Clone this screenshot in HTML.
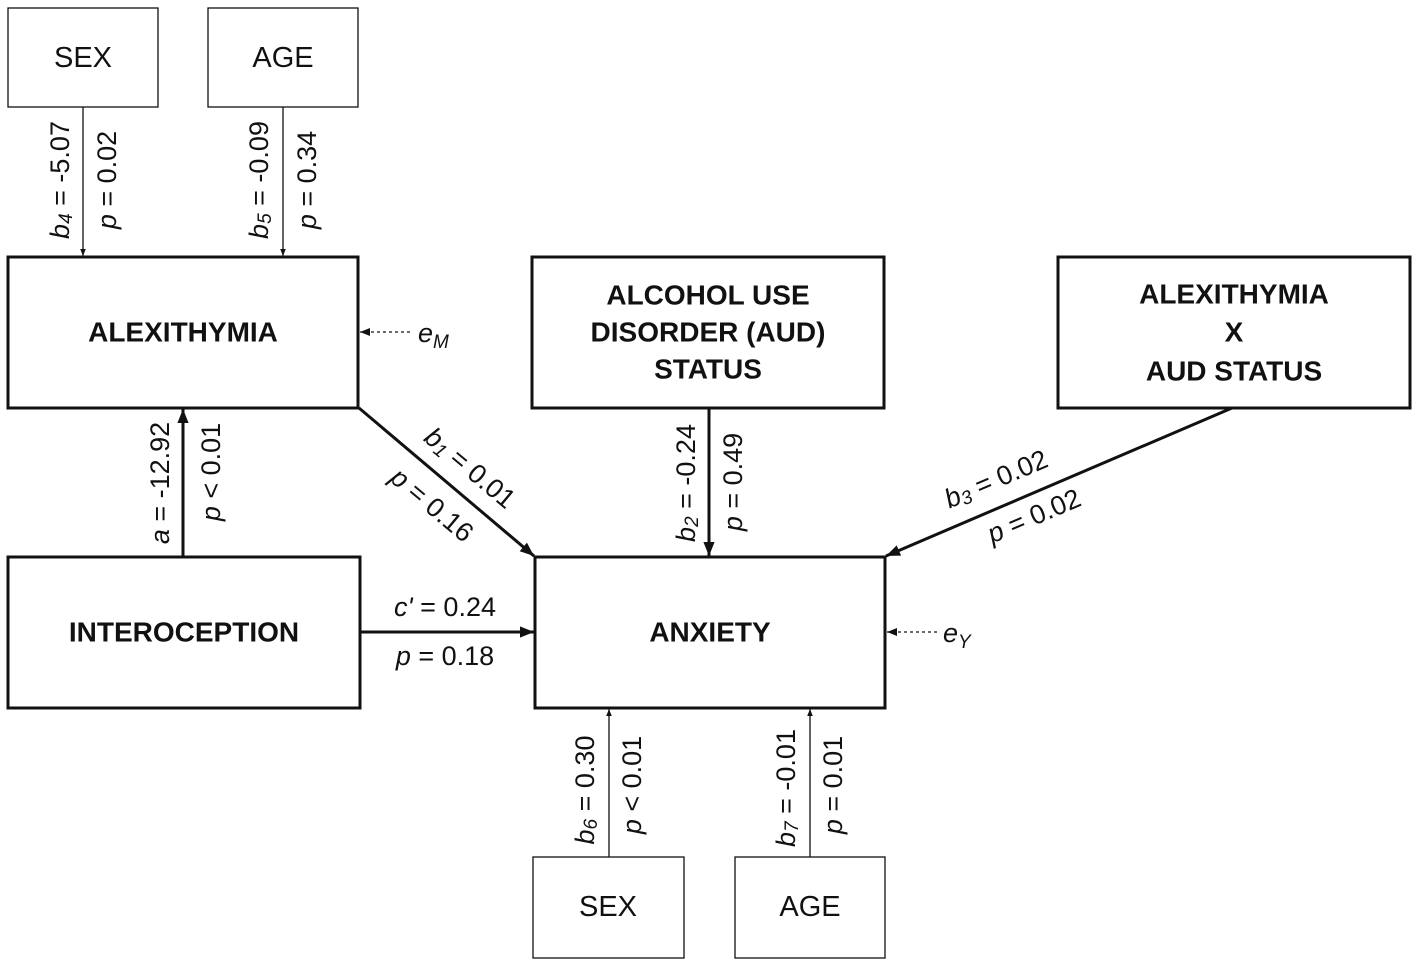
<!DOCTYPE html>
<html><head><meta charset="utf-8"><style>
html,body{margin:0;padding:0;background:#fff;}
svg{display:block;font-family:"Liberation Sans",Arial,sans-serif;}
.t{font-size:27px;fill:#111;}
.b{font-size:28px;font-weight:bold;fill:#111;}
.n{font-size:29px;fill:#111;}
</style></head><body>
<svg width="1418" height="965" viewBox="0 0 1418 965" xmlns="http://www.w3.org/2000/svg">
<defs>
<marker id="ah" viewBox="0 0 10 10" refX="10" refY="5" markerWidth="7" markerHeight="7" markerUnits="userSpaceOnUse" orient="auto"><path d="M0,1 L10,5 L0,9 z" fill="#111"/></marker>
<marker id="ahb" viewBox="0 0 10 10" refX="10" refY="5" markerWidth="16" markerHeight="14" markerUnits="userSpaceOnUse" orient="auto"><path d="M0,1 L10,5 L0,9 z" fill="#111"/></marker>
<marker id="ahs" viewBox="0 0 10 10" refX="10" refY="5" markerWidth="10" markerHeight="10" markerUnits="userSpaceOnUse" orient="auto"><path d="M0,1 L10,5 L0,9 z" fill="#111"/></marker>
</defs>
<g fill="none" stroke="#111">
<rect x="8" y="8" width="150" height="99" stroke-width="1.3"/>
<rect x="208" y="8" width="150" height="99" stroke-width="1.3"/>
<rect x="533" y="857" width="151" height="101" stroke-width="1.3"/>
<rect x="735" y="857" width="150" height="101" stroke-width="1.3"/>
<rect x="8" y="257" width="350" height="151" stroke-width="3"/>
<rect x="532" y="257" width="352" height="151" stroke-width="3"/>
<rect x="1058" y="257" width="352" height="151" stroke-width="3"/>
<rect x="8" y="557" width="352" height="151" stroke-width="3"/>
<rect x="535" y="557" width="350" height="151" stroke-width="3"/>
<line x1="83" y1="107" x2="83" y2="256" stroke-width="1.3" marker-end="url(#ah)"/>
<line x1="283" y1="107" x2="283" y2="256" stroke-width="1.3" marker-end="url(#ah)"/>
<line x1="609" y1="857" x2="609" y2="709" stroke-width="1.3" marker-end="url(#ah)"/>
<line x1="810" y1="857" x2="810" y2="709" stroke-width="1.3" marker-end="url(#ah)"/>
<line x1="183" y1="557" x2="183" y2="409" stroke-width="3" marker-end="url(#ahb)"/>
<line x1="359" y1="408" x2="534" y2="556" stroke-width="3" marker-end="url(#ahb)"/>
<line x1="709" y1="408" x2="709" y2="556" stroke-width="3" marker-end="url(#ahb)"/>
<line x1="1232" y1="408" x2="886" y2="556" stroke-width="3" marker-end="url(#ahb)"/>
<line x1="360" y1="632" x2="534" y2="632" stroke-width="3" marker-end="url(#ahb)"/>
<line x1="410" y1="332" x2="360" y2="332" stroke-width="1.2" stroke-dasharray="3,3" marker-end="url(#ahs)"/>
<line x1="937" y1="632" x2="887" y2="632" stroke-width="1.2" stroke-dasharray="3,3" marker-end="url(#ahs)"/>
</g>
<g text-anchor="middle" dominant-baseline="central">
<text class="n" x="83" y="58">SEX</text>
<text class="n" x="283" y="58">AGE</text>
<text class="n" x="608" y="907">SEX</text>
<text class="n" x="810" y="907">AGE</text>
<text class="b" x="183" y="332">ALEXITHYMIA</text>
<text class="b" x="708" y="295">ALCOHOL USE</text>
<text class="b" x="708" y="332">DISORDER (AUD)</text>
<text class="b" x="708" y="369">STATUS</text>
<text class="b" x="1234" y="294">ALEXITHYMIA</text>
<text class="b" x="1234" y="332">X</text>
<text class="b" x="1234" y="371">AUD STATUS</text>
<text class="b" x="184" y="632">INTEROCEPTION</text>
<text class="b" x="710" y="632">ANXIETY</text>
<text class="t" transform="translate(60,180) rotate(-90)"><tspan font-style="italic">b</tspan><tspan font-style="italic" font-size="19" dy="6">4</tspan><tspan dy="-6"> = -5.07</tspan></text>
<text class="t" transform="translate(107,180) rotate(-90)"><tspan font-style="italic">p</tspan> = 0.02</text>
<text class="t" transform="translate(259,180) rotate(-90)"><tspan font-style="italic">b</tspan><tspan font-style="italic" font-size="19" dy="6">5</tspan><tspan dy="-6"> = -0.09</tspan></text>
<text class="t" transform="translate(307,180) rotate(-90)"><tspan font-style="italic">p</tspan> = 0.34</text>
<text class="t" transform="translate(160,483) rotate(-90)"><tspan font-style="italic">a</tspan> = -12.92</text>
<text class="t" transform="translate(211,472) rotate(-90)"><tspan font-style="italic">p</tspan> &lt; 0.01</text>
<text class="t" transform="translate(686,483) rotate(-90)"><tspan font-style="italic">b</tspan><tspan font-style="italic" font-size="19" dy="6">2</tspan><tspan dy="-6"> = -0.24</tspan></text>
<text class="t" transform="translate(733,482) rotate(-90)"><tspan font-style="italic">p</tspan> = 0.49</text>
<text class="t" transform="translate(585,790) rotate(-90)"><tspan font-style="italic">b</tspan><tspan font-style="italic" font-size="19" dy="6">6</tspan><tspan dy="-6"> = 0.30</tspan></text>
<text class="t" transform="translate(632,785) rotate(-90)"><tspan font-style="italic">p</tspan> &lt; 0.01</text>
<text class="t" transform="translate(786,788) rotate(-90)"><tspan font-style="italic">b</tspan><tspan font-style="italic" font-size="19" dy="6">7</tspan><tspan dy="-6"> = -0.01</tspan></text>
<text class="t" transform="translate(833,785) rotate(-90)"><tspan font-style="italic">p</tspan> = 0.01</text>
<text class="t" transform="translate(470,468) rotate(40)"><tspan font-style="italic">b</tspan><tspan font-style="italic" font-size="19" dy="6">1</tspan><tspan dy="-6"> = 0.01</tspan></text>
<text class="t" transform="translate(432,505) rotate(40)"><tspan font-style="italic">p</tspan> = 0.16</text>
<text class="t" transform="translate(996,479) rotate(-23)"><tspan font-style="italic">b</tspan><tspan font-style="italic" font-size="19" dy="6">3</tspan><tspan dy="-6"> = 0.02</tspan></text>
<text class="t" transform="translate(1034,516) rotate(-23)"><tspan font-style="italic">p</tspan> = 0.02</text>
<text class="t" x="445" y="607"><tspan font-style="italic">c'</tspan> = 0.24</text>
<text class="t" x="445" y="656"><tspan font-style="italic">p</tspan> = 0.18</text>
</g>
<text class="t" x="418" y="342" font-style="italic">e<tspan font-size="19" dy="6">M</tspan></text>
<text class="t" x="943" y="642" font-style="italic">e<tspan font-size="19" dy="6">Y</tspan></text>
</svg>
</body></html>
